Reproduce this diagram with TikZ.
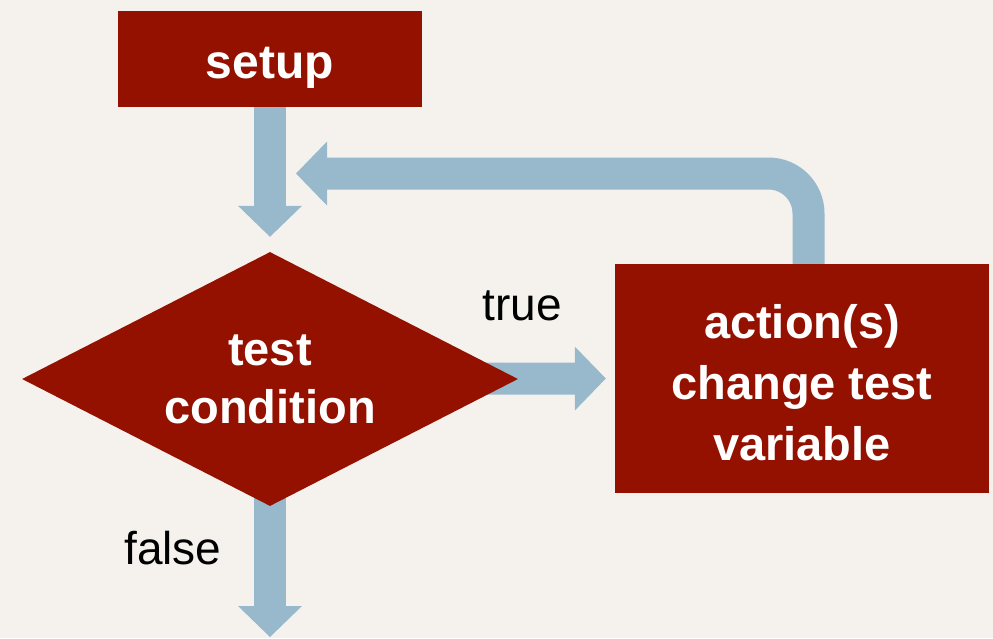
\documentclass[tikz,border=0pt]{standalone}
\usepackage{fontspec}
\setmainfont{Liberation Sans}
\usetikzlibrary{arrows.meta,shapes.geometric}
\definecolor{boxred}{RGB}{148,17,0}
\definecolor{flowblue}{RGB}{151,185,203}
\definecolor{paper}{RGB}{245,242,238}
\pgfdeclarelayer{paperlayer}
\pgfdeclarelayer{flowlayer}
\pgfsetlayers{paperlayer,flowlayer,main}
\tikzset{
  redbox/.style={fill=boxred, text=white, inner sep=0pt, align=center,
    font=\fontsize{47}{61}\selectfont\bfseries},
  flow/.style={draw=flowblue, line width=32pt,
    -{Triangle[length=31pt,width=64pt,line width=0pt 0 0]}},
  label/.style={text=black, inner sep=0pt, font=\fontsize{46}{56}\selectfont}
}
\begin{document}
\begin{tikzpicture}[x=1pt,y=-1pt]
  % canvas
  \begin{pgfonlayer}{paperlayer}
    \fill[paper] (0,0) rectangle (993,638);
  \end{pgfonlayer}
  \useasboundingbox (0,0) rectangle (993,638);

  % boxes
  \node[redbox, minimum width=304pt, minimum height=95.5pt,
        font=\fontsize{48}{58}\selectfont\bfseries,
        text height=49pt, text depth=10pt] (setup) at (270,58.8) {setup};
  \node[redbox, shape=diamond, shape aspect=1.95, minimum width=496pt,
        minimum height=254pt, font=\fontsize{47}{58}\selectfont\bfseries]
        (cond) at (270,379) {test\\condition};
  \node[redbox, minimum width=374pt, minimum height=228.5pt] (act) at (802,378.5)
        {\rule{0pt}{43pt}action(s)\\change test\\variable};

  % branch labels
  \node[label] (true) at (522,306) {true};
  \node[label] (false) at (173,548) {false};

  % free ends of the connectors
  \coordinate (loopend) at (296,173.5);
  \coordinate (exit) at (270,637);

  % connectors, drawn beneath the boxes
  \begin{pgfonlayer}{flowlayer}
    \draw[flow] (setup.south) -- ([yshift=15pt]cond.north);
    \draw[flow, rounded corners=40pt] ([xshift=6.5pt]act.north) |- (loopend);
    \draw[flow] (cond.center) -- ([xshift=-9pt]act.west);
    \draw[flow] (cond.center) -- (exit);
  \end{pgfonlayer}
\end{tikzpicture}
\end{document}
